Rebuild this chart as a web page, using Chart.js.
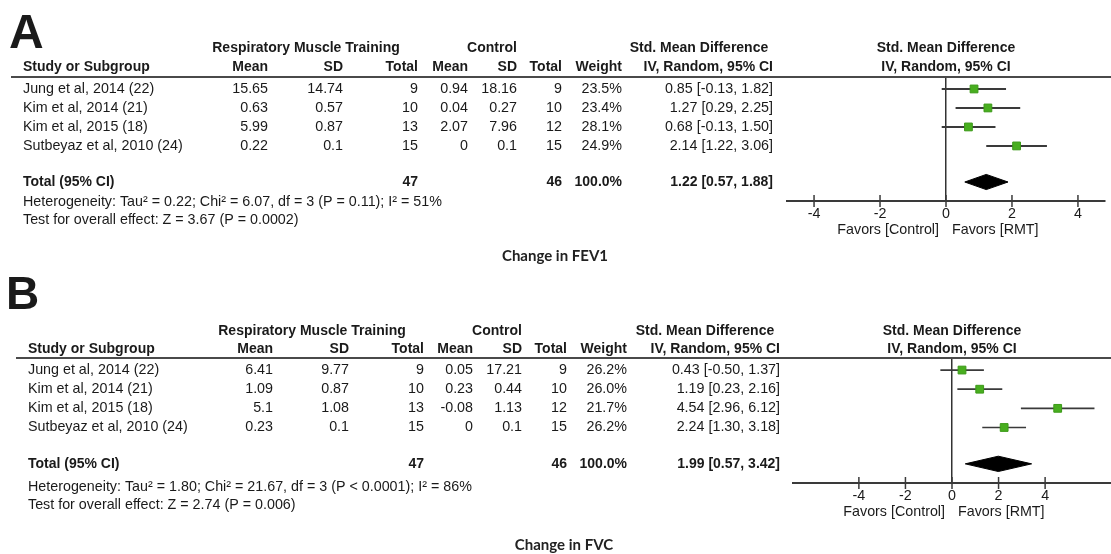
<!DOCTYPE html>
<html>
<head>
<meta charset="utf-8">
<script src="https://cdn.jsdelivr.net/npm/chart.js@4.4.1/dist/chart.umd.min.js"></script>
<style>
  html, body { margin: 0; padding: 0; background: #fff; width: 1111px; height: 554px; overflow: hidden; }
  canvas { position: absolute; left: 0; display: block; }
  #fev1 { top: 0; }
  #fvc { top: 272px; }
</style>
</head>
<body>
<canvas id="fev1" width="1111" height="272"></canvas>
<canvas id="fvc" width="1111" height="282"></canvas>
<script>
// Studies and axis ticks shared by both forest plots
const studies = ['Jung et al, 2014 (22)', 'Kim et al, 2014 (21)', 'Kim et al, 2015 (18)', 'Sutbeyaz et al, 2010 (24)'];
const axisTicks = [-4, -2, 0, 2, 4];

// Change in FEV1
const fev1RmtMean = [15.65, 0.63, 5.99, 0.22];
const fev1RmtSd = [14.74, 0.57, 0.87, 0.1];
const fev1RmtN = [9, 10, 13, 15];
const fev1CtrlMean = [0.94, 0.04, 2.07, 0];
const fev1CtrlSd = [18.16, 0.27, 7.96, 0.1];
const fev1CtrlN = [9, 10, 12, 15];
const fev1Weight = [23.5, 23.4, 28.1, 24.9];
const fev1Smd = [0.85, 1.27, 0.68, 2.14];
const fev1Lo = [-0.13, 0.29, -0.13, 1.22];
const fev1Hi = [1.82, 2.25, 1.50, 3.06];
const fev1Pooled = [1.22, 0.57, 1.88];
const fev1Notes = [
  'Heterogeneity: Tau\u00B2 = 0.22; Chi\u00B2 = 6.07, df = 3 (P = 0.11); I\u00B2 = 51%',
  'Test for overall effect: Z = 3.67 (P = 0.0002)'
];

// Change in FVC
const fvcRmtMean = [6.41, 1.09, 5.1, 0.23];
const fvcRmtSd = [9.77, 0.87, 1.08, 0.1];
const fvcRmtN = [9, 10, 13, 15];
const fvcCtrlMean = [0.05, 0.23, -0.08, 0];
const fvcCtrlSd = [17.21, 0.44, 1.13, 0.1];
const fvcCtrlN = [9, 10, 12, 15];
const fvcWeight = [26.2, 26.0, 21.7, 26.2];
const fvcSmd = [0.43, 1.19, 4.54, 2.24];
const fvcLo = [-0.50, 0.23, 2.96, 1.30];
const fvcHi = [1.37, 2.16, 6.12, 3.18];
const fvcPooled = [1.99, 0.57, 3.42];
const fvcNotes = [
  'Heterogeneity: Tau\u00B2 = 1.80; Chi\u00B2 = 21.67, df = 3 (P < 0.0001); I\u00B2 = 86%',
  'Test for overall effect: Z = 2.74 (P = 0.006)'
];

// Page layout of each panel (pixels)
const layoutFev1 = {
  letter: 'A', letterX: 9, letterY: 48, letterSize: 48,
  padLeft: 787, padRight: 6, padTop: 77, padBottom: 41, span: 4.82,
  ruleX: 11, hdr1: 48, hdr2: 67, hetDy: 20, testDy: 38,
  cols: { study: 23, mean: 268, sd: 343, n: 418, cMean: 468, cSd: 517, cN: 562, weight: 622, ci: 773, rmtHdr: 306, ctrlHdr: 492, smdHdr: 699 },
  caption: 'Change in FEV1', captionX: 555, captionY: 256,
  whiskerWidth: 2
};
const layoutFvc = {
  letter: 'B', letterX: 6, letterY: 37, letterSize: 46,
  padLeft: 793, padRight: 0, padTop: 86, padBottom: 41, span: 6.83,
  ruleX: 16, hdr1: 59, hdr2: 77, hetDy: 23, testDy: 41,
  cols: { study: 28, mean: 273, sd: 349, n: 424, cMean: 473, cSd: 522, cN: 567, weight: 627, ci: 780, rmtHdr: 312, ctrlHdr: 497, smdHdr: 705 },
  caption: 'Change in FVC', captionX: 564, captionY: 273,
  whiskerWidth: 1.7
};

const FONT = '"Liberation Sans", Arial, Helvetica, sans-serif';
const BODY_SIZE = 14.3;
const HEAD_SIZE = 14;
const INK = '#1a1a1a';
const LINE = '#3a3a3a';
const ROW_GAP_TOTAL = 1.9;   // rows between last study and the pooled row
const DIAMOND_HALF = 0.4;    // diamond half-height in rows

function ciText(est, lo, hi) {
  return est.toFixed(2) + ' [' + lo.toFixed(2) + ', ' + hi.toFixed(2) + ']';
}

function forestPlot(canvasId, d, L) {
  const n = d.smd.length;
  const totalRow = (n - 1) + ROW_GAP_TOTAL;
  const [pEst, pLo, pHi] = d.pooled;

  const squares = {
    type: 'scatter',
    data: d.smd.map((v, i) => ({ x: v, y: i })),
    pointStyle: 'rect',
    pointRadius: 5.5,
    backgroundColor: '#48ae1f',
    borderColor: '#3c9a19',
    borderWidth: 1
  };
  const whiskers = d.lo.map((lo, i) => ({
    type: 'line',
    data: [{ x: lo, y: i }, { x: d.hi[i], y: i }],
    borderColor: LINE,
    borderWidth: L.whiskerWidth,
    pointRadius: 0,
    fill: false
  }));
  const diamond = {
    type: 'line',
    data: [
      { x: pLo, y: totalRow },
      { x: pEst, y: totalRow - DIAMOND_HALF },
      { x: pHi, y: totalRow },
      { x: pEst, y: totalRow + DIAMOND_HALF },
      { x: pLo, y: totalRow }
    ],
    borderColor: '#000',
    backgroundColor: '#000',
    borderWidth: 1,
    pointRadius: 0,
    tension: 0,
    fill: 'shape'
  };

  const tablePlugin = {
    id: 'forestTable',
    afterDraw(chart) {
      const { ctx, chartArea, scales } = chart;
      const xs = scales.x, ys = scales.y;
      const zero = xs.getPixelForValue(0);
      const C = L.cols;
      const text = (s, x, y, align, bold) => {
        ctx.font = (bold ? 'bold ' + HEAD_SIZE : BODY_SIZE) + 'px ' + FONT;
        ctx.textAlign = align;
        ctx.fillText(s, x, y);
      };
      ctx.save();
      ctx.fillStyle = INK;

      // panel letter
      ctx.textBaseline = 'alphabetic';
      ctx.font = 'bold ' + L.letterSize + 'px ' + FONT;
      ctx.textAlign = 'left';
      ctx.fillText(L.letter, L.letterX, L.letterY);

      // column headers
      ctx.textBaseline = 'middle';
      text('Respiratory Muscle Training', C.rmtHdr, L.hdr1, 'center', true);
      text('Control', C.ctrlHdr, L.hdr1, 'center', true);
      text('Std. Mean Difference', C.smdHdr, L.hdr1, 'center', true);
      text('Std. Mean Difference', zero, L.hdr1, 'center', true);
      text('Study or Subgroup', C.study, L.hdr2, 'left', true);
      text('Mean', C.mean, L.hdr2, 'right', true);
      text('SD', C.sd, L.hdr2, 'right', true);
      text('Total', C.n, L.hdr2, 'right', true);
      text('Mean', C.cMean, L.hdr2, 'right', true);
      text('SD', C.cSd, L.hdr2, 'right', true);
      text('Total', C.cN, L.hdr2, 'right', true);
      text('Weight', C.weight, L.hdr2, 'right', true);
      text('IV, Random, 95% CI', C.ci, L.hdr2, 'right', true);
      text('IV, Random, 95% CI', zero, L.hdr2, 'center', true);

      // header rule
      ctx.strokeStyle = '#4a4a4a';
      ctx.lineWidth = 2;
      ctx.beginPath();
      ctx.moveTo(L.ruleX, chartArea.top);
      ctx.lineTo(chart.width, chartArea.top);
      ctx.stroke();

      // study rows
      d.names.forEach((name, i) => {
        const y = ys.getPixelForValue(i);
        text(name, C.study, y, 'left');
        text(String(d.rmtMean[i]), C.mean, y, 'right');
        text(String(d.rmtSd[i]), C.sd, y, 'right');
        text(String(d.rmtN[i]), C.n, y, 'right');
        text(String(d.ctrlMean[i]), C.cMean, y, 'right');
        text(String(d.ctrlSd[i]), C.cSd, y, 'right');
        text(String(d.ctrlN[i]), C.cN, y, 'right');
        text(d.weight[i].toFixed(1) + '%', C.weight, y, 'right');
        text(ciText(d.smd[i], d.lo[i], d.hi[i]), C.ci, y, 'right');
      });

      // pooled row
      const ty = ys.getPixelForValue(totalRow);
      const sum = a => a.reduce((s, v) => s + v, 0);
      text('Total (95% CI)', C.study, ty, 'left', true);
      text(String(sum(d.rmtN)), C.n, ty, 'right', true);
      text(String(sum(d.ctrlN)), C.cN, ty, 'right', true);
      text('100.0%', C.weight, ty, 'right', true);
      text(ciText(pEst, pLo, pHi), C.ci, ty, 'right', true);
      text(d.notes[0], C.study, ty + L.hetDy, 'left');
      text(d.notes[1], C.study, ty + L.testDy, 'left');

      // tick marks crossing the axis line
      ctx.strokeStyle = LINE;
      ctx.lineWidth = 1.5;
      xs.ticks.forEach(t => {
        const px = xs.getPixelForValue(t.value);
        ctx.beginPath();
        ctx.moveTo(px, chartArea.bottom - 6);
        ctx.lineTo(px, chartArea.bottom + 6);
        ctx.stroke();
      });

      // direction labels under the axis
      text('Favors [Control]', zero - 7, chartArea.bottom + 29, 'right');
      text('Favors [RMT]', zero + 6, chartArea.bottom + 29, 'left');

      // panel caption
      ctx.fillStyle = '#222';
      ctx.font = 'bold 15px Lato, "Open Sans", sans-serif';
      ctx.textAlign = 'center';
      ctx.fillText(L.caption, L.captionX, L.captionY);
      ctx.restore();
    }
  };

  return new Chart(document.getElementById(canvasId), {
    type: 'scatter',
    data: { datasets: [squares, ...whiskers, diamond] },
    options: {
      responsive: false,
      animation: false,
      devicePixelRatio: 1,
      events: [],
      layout: {
        autoPadding: false,
        padding: { left: L.padLeft, right: L.padRight, top: L.padTop, bottom: L.padBottom }
      },
      plugins: { legend: { display: false }, tooltip: { enabled: false }, title: { display: false } },
      scales: {
        x: {
          type: 'linear',
          min: -L.span,
          max: L.span,
          afterBuildTicks: s => { s.ticks = axisTicks.map(v => ({ value: v })); },
          afterFit: s => { s.height = 30; s.paddingLeft = 0; s.paddingRight = 0; },
          border: { display: true, color: LINE, width: 2 },
          grid: {
            drawTicks: false,
            drawOnChartArea: true,
            color: c => (c.tick && c.tick.value === 0 ? '#333' : 'rgba(0,0,0,0)'),
            lineWidth: 1.5
          },
          ticks: { color: INK, padding: 4, font: { family: FONT, size: BODY_SIZE } }
        },
        y: {
          type: 'linear',
          display: false,
          reverse: true,
          min: -0.63,
          max: totalRow + 1
        }
      }
    },
    plugins: [tablePlugin]
  });
}

forestPlot('fev1', {
  names: studies, rmtMean: fev1RmtMean, rmtSd: fev1RmtSd, rmtN: fev1RmtN,
  ctrlMean: fev1CtrlMean, ctrlSd: fev1CtrlSd, ctrlN: fev1CtrlN, weight: fev1Weight,
  smd: fev1Smd, lo: fev1Lo, hi: fev1Hi, pooled: fev1Pooled, notes: fev1Notes
}, layoutFev1);

forestPlot('fvc', {
  names: studies, rmtMean: fvcRmtMean, rmtSd: fvcRmtSd, rmtN: fvcRmtN,
  ctrlMean: fvcCtrlMean, ctrlSd: fvcCtrlSd, ctrlN: fvcCtrlN, weight: fvcWeight,
  smd: fvcSmd, lo: fvcLo, hi: fvcHi, pooled: fvcPooled, notes: fvcNotes
}, layoutFvc);
</script>
</body>
</html>
